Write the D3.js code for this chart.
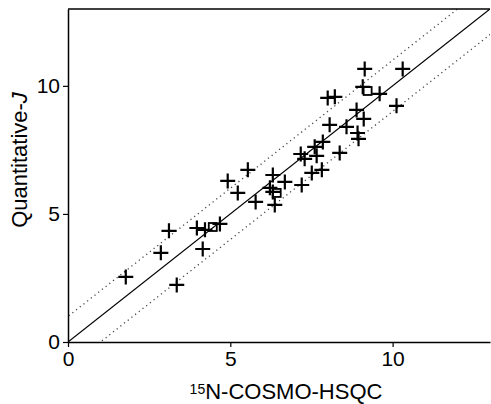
<!DOCTYPE html>
<html>
<head>
<meta charset="utf-8">
<script src="https://cdn.jsdelivr.net/npm/d3@7"></script>
<style>
  body { margin: 0; background: #fff; }
  text { font-family: "Liberation Sans", Arial, sans-serif; fill: #000; }
</style>
</head>
<body>
<div id="chart"></div>
<script>
// plus markers: [15N-COSMO-HSQC, Quantitative-J]
var plusX = [1.78, 2.86, 3.11, 3.35, 3.97, 4.22, 4.15, 4.68, 4.92, 5.23, 5.54, 5.78,
  6.31, 6.22, 6.31, 6.68, 6.37, 7.20, 7.51, 7.82, 7.17, 7.29, 7.66, 7.85, 7.60,
  8.06, 8.58, 8.37, 8.92, 8.95, 8.89, 9.11, 8.00, 8.22, 9.14, 10.31, 9.08, 9.60, 10.12];
var plusY = [2.54, 3.48, 4.34, 2.23, 4.45, 4.38, 3.63, 4.61, 6.29, 5.82, 6.72, 5.47,
  6.52, 6.02, 5.86, 6.25, 5.35, 6.13, 6.60, 6.72, 7.34, 7.15, 7.27, 7.81, 7.62,
  8.48, 8.40, 7.38, 8.16, 7.93, 9.06, 8.71, 9.53, 9.57, 10.66, 10.66, 9.96, 9.69, 9.22];
// square markers
var squareX = [4.46, 6.43, 9.23];
var squareY = [4.49, 5.82, 9.80];
var xTicks = [0, 5, 10];
var yTicks = [0, 5, 10];
var bandOffset = 1;

var width = 491, height = 404;
var margin = {left: 68, right: 1, top: 9, bottom: 62};

var svg = d3.select('#chart')
  .append('svg')
  .attr('width', width)
  .attr('height', height);

var x = d3.scaleLinear().domain([0, 13]).range([margin.left, width - margin.right]);
var y = d3.scaleLinear().domain([0, 13]).range([height - margin.bottom, margin.top]);

svg.append('clipPath')
  .attr('id', 'clip')
  .append('rect')
  .attr('x', x(0)).attr('y', y(13))
  .attr('width', x(13) - x(0)).attr('height', y(0) - y(13));

var plot = svg.append('g').attr('clip-path', 'url(#clip)');

// y = x and the +/- band
var lines = [
  {off: 0, dash: null, w: 1.2, c: '#000'},
  {off: bandOffset, dash: '1.2,3.5', w: 1.3, c: '#444'},
  {off: -bandOffset, dash: '1.2,3.5', w: 1.3, c: '#444'}
];
plot.selectAll('line.ref')
  .data(lines)
  .enter()
  .append('line')
  .attr('class', 'ref')
  .attr('x1', d => x(-1))
  .attr('y1', d => y(-1 + d.off))
  .attr('x2', d => x(14))
  .attr('y2', d => y(14 + d.off))
  .style('stroke', d => d.c)
  .style('stroke-width', d => d.w)
  .style('stroke-dasharray', d => d.dash);

// plus markers
var plusData = plusX.map((v, i) => [v, plusY[i]]);
var ps = 7.5;
plot.selectAll('path.plus')
  .data(plusData)
  .enter()
  .append('path')
  .attr('class', 'plus')
  .attr('d', d => {
    var cx = x(d[0]), cy = y(d[1]);
    return 'M' + (cx - ps) + ',' + cy + 'H' + (cx + ps) + 'M' + cx + ',' + (cy - ps) + 'V' + (cy + ps);
  })
  .style('stroke', '#000')
  .style('stroke-width', 2.2)
  .style('fill', 'none');

// square markers
var squareData = squareX.map((v, i) => [v, squareY[i]]);
var ss = 4;
plot.selectAll('rect.sq')
  .data(squareData)
  .enter()
  .append('rect')
  .attr('class', 'sq')
  .attr('x', d => x(d[0]) - ss)
  .attr('y', d => y(d[1]) - ss)
  .attr('width', ss * 2)
  .attr('height', ss * 2)
  .style('fill', 'none')
  .style('stroke', '#000')
  .style('stroke-width', 1.8);

// axes
var xAxis = svg.append('g')
  .attr('transform', 'translate(0,' + y(0) + ')')
  .call(d3.axisBottom(x).tickValues(xTicks).tickSize(5).tickPadding(4).tickSizeOuter(0));
var yAxis = svg.append('g')
  .attr('transform', 'translate(' + x(0) + ',0)')
  .call(d3.axisLeft(y).tickValues(yTicks).tickSize(5).tickPadding(3).tickSizeOuter(0));

[xAxis, yAxis].forEach(function(a) {
  a.select('.domain').style('stroke', '#000').style('stroke-width', 1.5);
  a.selectAll('.tick line').style('stroke', '#000').style('stroke-width', 1.2);
  a.selectAll('.tick text')
    .style('font-family', '"Liberation Sans", Arial, sans-serif')
    .style('font-size', '21px')
    .style('fill', '#000');
});

// top border
svg.append('line')
  .attr('x1', x(0)).attr('y1', y(13))
  .attr('x2', x(13)).attr('y2', y(13))
  .style('stroke', '#000')
  .style('stroke-width', 1.5);

// axis titles
var xt = svg.append('text')
  .attr('x', 286)
  .attr('y', 399)
  .attr('text-anchor', 'middle')
  .style('font-size', '22px');
xt.append('tspan').attr('baseline-shift', '35%').style('font-size', '14px').text('15');
xt.append('tspan').text('N-COSMO-HSQC');

var yt = svg.append('text')
  .attr('transform', 'translate(27,160) rotate(-90)')
  .attr('text-anchor', 'middle')
  .style('font-size', '22px');
yt.append('tspan').text('Quantitative-');
yt.append('tspan').style('font-style', 'italic').text('J');
</script>
</body>
</html>
